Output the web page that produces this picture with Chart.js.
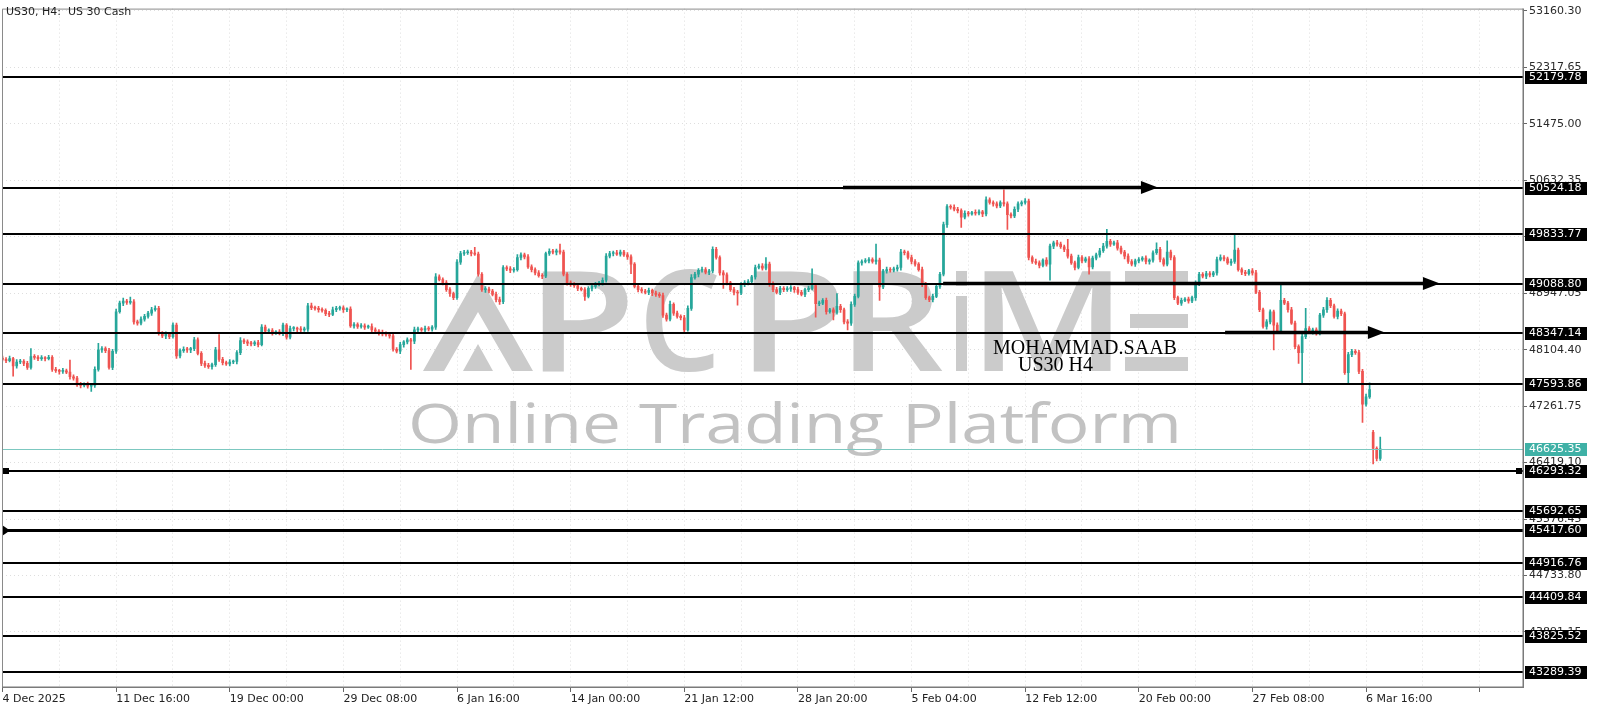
<!DOCTYPE html>
<html><head><meta charset="utf-8">
<script src="https://cdn.jsdelivr.net/npm/chart.js@4.4.1/dist/chart.umd.min.js"></script>
<style>html,body{margin:0;padding:0;background:#fff;overflow:hidden}canvas{display:block}</style>
</head><body>
<canvas id="c" width="1600" height="711"></canvas>
<script>
// ---------------- DATA ----------------
const chartTitle = 'US30, H4:  US 30 Cash';
const firstOpen = 47980;
const closes = [
47960,47940,47970,47860,47920,47930,47900,47840,48000,47990,
47970,47980,47970,47990,47810,47790,47780,47790,47770,47700,
47680,47580,47570,47590,47560,47570,47810,48100,48120,48090,
47840,48080,48670,48800,48830,48810,48820,48520,48500,48560,
48600,48650,48700,48720,48350,48310,48340,48300,48470,48010,
48090,48110,48100,48120,48250,48050,47900,47870,47850,47880,
48100,47960,47910,47890,47920,47930,48060,48240,48220,48200,
48190,48210,48180,48440,48380,48390,48360,48370,48350,48470,
48290,48420,48420,48410,48400,48410,48760,48730,48720,48700,
48690,48640,48630,48700,48720,48730,48700,48710,48460,48480,
48450,48460,48440,48450,48400,48380,48360,48340,48330,48310,
48110,48080,48180,48220,48250,48230,48400,48410,48400,48420,
48410,48440,49190,49150,49100,49000,48940,48880,49410,49540,
49550,49560,49540,49530,49230,49000,49010,48980,48930,48850,
48820,49330,49310,49290,49300,49480,49520,49490,49340,49300,
49250,49210,49200,49540,49570,49560,49580,49560,49230,49100,
49080,49060,49020,49000,48900,49020,49050,49080,49100,49140,
49500,49540,49550,49530,49560,49520,49490,49380,49050,49000,
48980,48960,48990,48950,48930,48910,48620,48560,48780,48650,
48600,48580,48400,48720,49180,49230,49290,49300,49260,49280,
49600,49480,49250,49220,49100,49000,48960,48950,49080,49100,
49120,49190,49330,49350,49320,49380,49090,49000,48960,49020,
49000,49010,49030,49000,48960,48930,49000,49020,49060,48790,
48800,48840,48670,48700,48660,48750,48700,48520,48500,48780,
48900,49400,49420,49430,49450,49420,49440,49040,49280,49300,
49290,49310,49330,49560,49550,49480,49420,49380,49300,49080,
48880,48850,48900,49050,49230,49970,50240,50230,50200,50180,
50080,50140,50130,50150,50140,50160,50130,50340,50300,50280,
50250,50300,50280,50120,50100,50200,50280,50300,50320,49480,
49420,49400,49360,49440,49380,49650,49700,49680,49640,49600,
49500,49400,49330,49480,49430,49460,49340,49470,49520,49580,
49650,49720,49680,49700,49620,49560,49500,49420,49380,49430,
49450,49470,49420,49440,49550,49600,49450,49380,49560,49480,
48880,48800,48840,48860,48830,48880,49090,49230,49200,49240,
49220,49250,49450,49480,49460,49400,49420,49590,49300,49260,
49240,49280,49250,48960,48700,48450,48520,48670,48470,48380,
48840,48800,48700,48500,48150,48060,48300,48420,48370,48400,
48350,48620,48700,48840,48760,48600,48680,48640,47760,48030,
48080,48060,47780,47290,47400,47510,46630,46480,46625.35
];
const upperWicks = [
30,25,40,20,35,30,25,30,120,30, 25,35,20,30,25,30,20,35,25,180,
30,25,35,20,30,25,40,100,30,25, 35,30,40,30,45,25,70,30,25,35,
30,25,35,40,30,25,30,20,35,30, 25,35,30,20,40,30,25,35,30,25,
40,230,30,25,35,20,30,45,25,30, 30,25,35,40,30,25,30,20,35,30,
25,35,30,20,40,30,35,40,25,30, 30,25,35,40,30,25,30,20,35,30,
25,35,30,20,40,30,25,35,30,25, 30,25,35,20,30,25,40,30,25,35,
30,25,50,30,25,35,30,25,40,30, 35,30,25,90,30,25,35,30,25,35,
40,30,25,35,30,45,30,25,35,30, 25,35,30,20,40,30,25,100,30,25,
30,25,35,20,30,25,40,30,25,35, 40,30,25,35,30,25,35,30,25,35,
30,25,35,20,30,25,40,30,50,25, 30,25,35,40,45,30,25,35,30,25,
40,30,25,35,30,25,35,30,25,35, 30,25,35,30,40,100,30,25,35,30,
25,35,30,20,40,30,25,35,250,30, 30,25,35,20,30,190,30,25,35,40,
35,30,25,35,30,25,240,30,25,35, 30,25,35,40,30,25,35,30,25,35,
30,25,35,20,30,40,30,25,35,30, 25,35,30,20,40,30,25,45,30,25,
30,25,190,30,25,35,30,25,40,30, 25,35,30,20,40,30,25,35,30,25,
150,30,25,35,30,25,35,30,25,35, 40,180,30,25,35,30,25,35,30,25,
30,25,35,20,30,100,30,25,170,30, 30,25,35,20,30,25,40,30,25,35,
30,25,35,40,30,25,35,230,30,25, 30,25,35,40,30,25,35,30,25,35,
250,30,25,35,30,25,35,300,30,25, 30,25,35,40,30,25,35,30,25,35,
30,25,35,30,40,100,30,25,175
];
const lowerWicks = [
25,30,20,150,30,25,35,30,25,30, 30,25,35,20,30,25,40,30,25,35,
30,25,35,20,30,80,30,25,35,30, 25,35,30,20,40,30,25,35,30,25,
30,25,35,20,30,25,40,30,25,35, 30,25,35,40,30,25,35,30,25,35,
25,30,35,20,30,25,40,30,25,35, 30,25,35,20,30,25,40,30,25,35,
30,25,35,40,30,25,35,30,25,35, 25,30,35,20,30,25,40,30,25,35,
30,25,35,20,30,25,40,30,25,35, 30,25,35,40,30,420,35,30,25,35,
25,30,35,20,30,25,40,30,25,35, 30,25,35,20,30,25,40,30,25,35,
40,30,25,35,30,25,35,30,25,35, 30,25,35,20,30,25,40,30,25,35,
30,25,35,20,60,25,40,30,25,35, 30,25,35,20,30,25,40,140,25,35,
30,25,35,40,30,25,35,30,25,35, 25,30,35,20,30,25,40,30,25,35,
30,25,35,200,30,25,40,180,25,35, 30,25,35,20,30,25,40,30,25,35,
30,25,35,40,30,25,35,30,25,200, 30,25,35,20,110,25,40,30,100,35,
30,25,35,20,30,25,40,200,25,35, 30,25,35,40,30,25,35,30,25,35,
25,30,35,20,30,25,40,30,25,35, 150,25,35,20,30,25,40,30,25,35,
30,25,35,220,30,25,35,30,25,35, 30,25,35,20,30,240,40,30,25,35,
30,25,35,20,30,25,110,30,25,35, 25,30,35,20,30,25,40,30,25,35,
30,25,35,40,30,25,35,30,25,35, 30,25,35,20,30,25,40,30,25,35,
30,25,35,20,30,25,40,30,25,35, 30,25,35,20,30,25,40,30,370,35,
30,25,35,20,30,160,450,30,25,35, 30,25,35,40,30,25,35,30,25,150,
30,25,35,270,30,25,230,35,30
];
const gapBars = [386];
const gapOpens = [46870];
const dateLabels = ['4 Dec 2025','11 Dec 16:00','19 Dec 00:00','29 Dec 08:00','6 Jan 16:00','14 Jan 00:00','21 Jan 12:00','28 Jan 20:00','5 Feb 04:00','12 Feb 12:00','20 Feb 00:00','27 Feb 08:00','6 Mar 16:00'];
const barsPerLabel = 32;
const yTickValues = [53160.30,52317.65,51475.00,50632.35,49789.70,48947.05,48104.40,47261.75,46419.10,45576.45,44733.80,43891.15];
const levels = [52179.78,50524.18,49833.77,49088.80,48347.14,47593.86,46293.32,45692.65,45417.60,44916.76,44409.84,43825.52,43289.39];
const currentPrice = 46625.35;
const arrowLevels = [50524.18,49088.80,48347.14];
const arrowFromBar = [236.7,264.9,344.3];
const arrowToBar = [325.4,404.8,389.3];
const authorLines = ['MOHAMMAD.SAAB','US30 H4'];
const watermarkText = 'Online Trading Platform';

// ---------------- derived OHLC ----------------
const opens = closes.map((c,i)=> i===0 ? firstOpen : closes[i-1]);
gapBars.forEach((b,k)=>{ opens[b] = gapOpens[k]; });
const highs = closes.map((c,i)=> Math.max(opens[i],c) + upperWicks[i]);
const lows = closes.map((c,i)=> Math.min(opens[i],c) - lowerWicks[i]);
const UP = '#26a69a', DOWN = '#ef5350';
const candleColors = closes.map((c,i)=> c >= opens[i] ? UP : DOWN);

const FONT = '"DejaVu Sans", sans-serif';

const overlay = {
  id: 'overlay',
  beforeDatasetsDraw(chart) {
    const ctx = chart.ctx;
    ctx.save();
    // ----- APC PRIME logo watermark -----
    ctx.fillStyle = '#cbcbcb';
    const top = 271, bot = 371;
    // A (lambda style)
    ctx.beginPath();
    ctx.moveTo(423, bot); ctx.lineTo(478, 274); ctx.lineTo(533, bot);
    ctx.lineTo(512, bot); ctx.lineTo(478, 312); ctx.lineTo(444, bot); ctx.closePath();
    ctx.fill();
    ctx.beginPath();
    ctx.moveTo(463, bot); ctx.lineTo(478, 344); ctx.lineTo(493, bot); ctx.closePath(); ctx.fill();
    const letter = (ch, x0, x1) => {
      ctx.save();
      ctx.font = '600 100px "Open Sans", sans-serif';
      const m = ctx.measureText(ch);
      const w = m.actualBoundingBoxLeft + m.actualBoundingBoxRight;
      const h = m.actualBoundingBoxAscent;
      ctx.translate(x0, bot);
      ctx.scale((x1 - x0) / w, (bot - top) / h);
      ctx.textBaseline = 'alphabetic';
      ctx.fillText(ch, m.actualBoundingBoxLeft, 0);
      ctx.restore();
    };
    letter('P', 542, 628);
    letter('C', 645, 718);
    letter('P', 753, 839);
    letter('R', 853, 944);
    letter('M', 984, 1111);
    // dotted i
    ctx.fillRect(956, top, 11, 15);
    ctx.fillRect(956, 296, 11, bot - 296);
    // Xi-like E
    ctx.fillRect(1125, top, 63, 14);
    ctx.fillRect(1130, 314, 58, 14);
    ctx.fillRect(1125, bot - 14, 63, 14);
    // Online Trading Platform
    ctx.fillStyle = '#c2c2c2';
    ctx.font = '400 55px "Open Sans", sans-serif';
    ctx.textBaseline = 'alphabetic';
    const tw = ctx.measureText(watermarkText).width;
    ctx.save();
    ctx.translate(408, 443);
    ctx.scale(774 / tw, 1);
    ctx.fillText(watermarkText, 0, 0);
    ctx.restore();
    ctx.restore();
  },
  afterDatasetsDraw(chart) {
    const ctx = chart.ctx, a = chart.chartArea, ys = chart.scales.y, xs = chart.scales.x;
    ctx.save();
    // current price line
    const cy = Math.round(ys.getPixelForValue(currentPrice)) + 0.5;
    ctx.strokeStyle = '#7cc8c0'; ctx.lineWidth = 1;
    ctx.beginPath(); ctx.moveTo(a.left, cy); ctx.lineTo(a.right, cy); ctx.stroke();
    // level lines
    ctx.strokeStyle = '#000'; ctx.fillStyle = '#000';
    levels.forEach((v, k) => {
      const y = Math.round(ys.getPixelForValue(v));
      const thick = (k === 8);
      ctx.lineWidth = thick ? 3 : 2;
      ctx.beginPath(); ctx.moveTo(a.left, y + (thick ? 0.5 : 0)); ctx.lineTo(a.right, y + (thick ? 0.5 : 0)); ctx.stroke();
      if (k === 6) { ctx.fillRect(a.left + 1, y - 3, 6, 6); ctx.fillRect(a.right - 7, y - 3, 6, 6); }
      if (k === 8) { ctx.beginPath(); ctx.moveTo(a.left, y - 5); ctx.lineTo(a.left + 8, y + 0.5); ctx.lineTo(a.left, y + 6); ctx.closePath(); ctx.fill(); }
    });
    // arrows
    arrowLevels.forEach((v, k) => {
      const y = Math.round(ys.getPixelForValue(v)) - 1;
      const x0 = xs.getPixelForValue(arrowFromBar[k]);
      const x1 = xs.getPixelForValue(arrowToBar[k]);
      ctx.lineWidth = 3.5;
      ctx.beginPath(); ctx.moveTo(x0, y + 0.5); ctx.lineTo(x1 - 10, y + 0.5); ctx.stroke();
      ctx.beginPath(); ctx.moveTo(x1, y + 0.5); ctx.lineTo(x1 - 17, y - 6); ctx.lineTo(x1 - 17, y + 7); ctx.closePath(); ctx.fill();
    });
    // author text
    ctx.fillStyle = '#000';
    ctx.font = '20px "Liberation Serif", "Times New Roman", serif';
    ctx.textBaseline = 'alphabetic';
    ctx.fillText(authorLines[0], 993, 354);
    ctx.fillText(authorLines[1], 1018, 371);
    ctx.restore();
  },
  afterDraw(chart) {
    const ctx = chart.ctx, a = chart.chartArea, ys = chart.scales.y;
    ctx.save();
    // frame
    ctx.strokeStyle = '#8a8a8a'; ctx.lineWidth = 1;
    ctx.beginPath();
    ctx.moveTo(a.left + 0.5, a.bottom); ctx.lineTo(a.left + 0.5, a.top + 0.5); ctx.lineTo(a.right, a.top + 0.5);
    ctx.stroke();
    ctx.strokeStyle = '#7a7a7a'; ctx.lineWidth = 1.5;
    ctx.beginPath();
    ctx.moveTo(a.right + 0.25, a.top); ctx.lineTo(a.right + 0.25, a.bottom + 0.25); ctx.lineTo(a.left, a.bottom + 0.25);
    ctx.stroke();
    // title
    ctx.fillStyle = '#1e1e1e';
    ctx.font = '11px ' + FONT;
    ctx.textBaseline = 'middle';
    ctx.fillText(chartTitle, 6, 12);
    // level label boxes
    const box = (v, bg) => {
      const y = Math.round(ys.getPixelForValue(v));
      ctx.fillStyle = bg;
      ctx.fillRect(a.right + 2, y - 6, 62, 13);
      ctx.fillStyle = '#fff';
      ctx.fillText(v.toFixed(2), a.right + 6, y + 0.5);
    };
    levels.forEach(v => box(v, '#000'));
    box(currentPrice, '#3fb1a6');
    ctx.restore();
  }
};

const wickData = closes.map((c, i) => ({x: i, y: [lows[i], highs[i]]}));
const bodyData = closes.map((c, i) => ({x: i, y: [opens[i], c]}));

new Chart(document.getElementById('c'), {
  type: 'bar',
  data: {
    datasets: [
      {label: 'wicks', data: wickData, backgroundColor: candleColors, borderWidth: 0, barThickness: 1, grouped: false, order: 2},
      {label: 'bodies', data: bodyData, backgroundColor: candleColors, borderWidth: 0, barThickness: 2, minBarLength: 1, grouped: false, order: 1}
    ]
  },
  options: {
    responsive: false,
    maintainAspectRatio: false,
    devicePixelRatio: 1,
    animation: false,
    layout: {padding: {left: 2, top: 2, right: 0, bottom: 0}},
    plugins: {legend: {display: false}, tooltip: {enabled: false}},
    scales: {
      x: {
        type: 'linear',
        min: -0.14, max: 428.2,
        offset: false,
        afterFit(s) { s.height = 24; },
        afterBuildTicks(s) {
          const t = [];
          for (let v = 0; v <= 428; v += barsPerLabel / 2) t.push({value: v});
          s.ticks = t;
        },
        grid: {
          offset: false,
          color: '#dedede',
          lineWidth: 1,
          tickLength: 5,
          tickColor: (c) => (c.tick && c.tick.value % barsPerLabel === 0) ? '#666' : 'rgba(0,0,0,0)'
        },
        border: {display: false, dash: [1, 3]},
        ticks: {
          autoSkip: false, maxRotation: 0, minRotation: 0, align: 'start', padding: 1,
          color: '#222', font: {family: FONT, size: 11},
          callback: (v) => (v % barsPerLabel === 0 && dateLabels[v / barsPerLabel]) ? dateLabels[v / barsPerLabel] : ''
        }
      },
      y: {
        type: 'linear',
        position: 'right',
        min: 43070, max: 53194.3,
        beginAtZero: false,
        afterFit(s) { s.width = 77; },
        afterBuildTicks(s) { s.ticks = yTickValues.map(v => ({value: v})); },
        grid: {color: '#dedede', lineWidth: 1, tickLength: 4, tickColor: '#666'},
        border: {display: false, dash: [1, 3]},
        ticks: {
          padding: 2, color: '#2a2a2a', font: {family: FONT, size: 11},
          callback: (v) => Number(v).toFixed(2)
        }
      }
    }
  },
  plugins: [overlay]
});
</script>
</body></html>
